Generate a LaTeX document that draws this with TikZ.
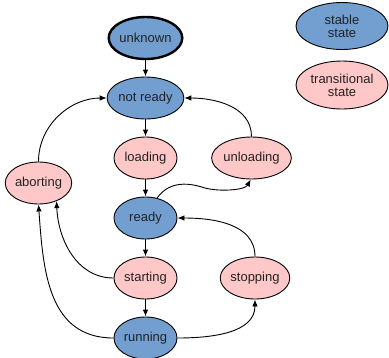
\documentclass[tikz,border=0pt]{standalone}
\usepackage{fontspec}
\setmainfont{Liberation Sans}
\usetikzlibrary{shapes.geometric,arrows.meta}
\definecolor{stablec}{HTML}{729FCF}
\definecolor{transc}{HTML}{FFC8C8}
\definecolor{txt}{HTML}{222222}
\tikzset{
  st/.style={ellipse, draw=black, line width=0.9pt, minimum width=63pt, minimum height=42pt, inner sep=0pt, text=txt, font=\fontsize{13}{15}\selectfont, align=center},
  stable/.style={st, fill=stablec},
  trans/.style={st, fill=transc},
  conn/.style={line width=0.9pt, -{Latex[length=7pt,width=5.5pt]}},
}
\begin{document}
\begin{tikzpicture}[x=1pt,y=-1pt]
\useasboundingbox (0,0) rectangle (389,357);
\node[stable, line width=2.4pt] (unknown) at (145.5,38) {unknown};
\node[stable] (notready) at (145.5,98) {not ready};
\node[trans] (loading) at (145.5,158) {loading};
\node[trans] (unloading) at (251.5,158) {unloading};
\node[trans] (aborting) at (38.5,183) {aborting};
\node[stable] (ready) at (145.5,218) {ready};
\node[trans] (starting) at (145.5,278) {starting};
\node[trans, minimum width=64pt] (stopping) at (255,278) {stopping};
\node[stable] (running) at (145.5,338) {running};
\node[stable, minimum width=92pt, minimum height=47pt] (legstable) at (342,26) {stable\\[-2pt]state};
\node[trans, minimum width=92pt, minimum height=48pt] (legtrans) at (342,85) {transitional\\[-2pt]state};

\draw[conn] (unknown) -- (notready);
\draw[conn] (notready) -- (loading);
\draw[conn] (loading) -- (ready);
\draw[conn] (ready) -- (starting);
\draw[conn] (starting) -- (running);
\draw[conn] (aborting.north) to[out=90,in=180] (notready.west);
\draw[conn] (unloading.north) to[out=90,in=0] (notready.east);
\draw[conn] (stopping.north) to[out=90,in=0] (ready.east);
\draw[conn] (running.east) to[out=0,in=-90] (stopping.south);
\draw[conn] (ready.60) .. controls (170,180) and (190,183) .. (205,188) .. controls (220,192) and (245,190) .. (unloading.-92);
\draw[conn] (starting.west) to[out=180,in=-88] (aborting.-45);
\draw[conn] (running.west) to[out=180,in=-86,looseness=1.1] (aborting.south);
\end{tikzpicture}
\end{document}
